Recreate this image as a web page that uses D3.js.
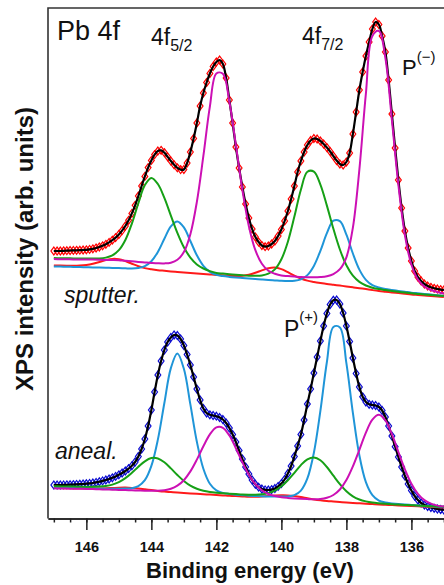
<!DOCTYPE html>
<html>
<head>
<meta charset="utf-8">
<script src="https://cdn.jsdelivr.net/npm/d3@7"></script>
<style>
  body { margin: 0; background: #fff; }
  svg { display: block; }
  text { font-family: "Liberation Sans", Arial, sans-serif; fill: #111; }
</style>
</head>
<body>
<script>
// binding energy of the measured points (eV), 0.1 eV steps
var energyData = [147.0,146.9,146.8,146.7,146.6,146.5,146.4,146.3,146.2,146.1,146.0,145.9,145.8,145.7,145.6,145.5,145.4,145.3,145.2,145.1,145.0,144.9,144.8,144.7,144.6,144.5,144.4,144.3,144.2,144.1,144.0,143.9,143.8,143.7,143.6,143.5,143.4,143.3,143.2,143.1,143.0,142.9,142.8,142.7,142.6,142.5,142.4,142.3,142.2,142.1,142.0,141.9,141.8,141.7,141.6,141.5,141.4,141.3,141.2,141.1,141.0,140.9,140.8,140.7,140.6,140.5,140.4,140.3,140.2,140.1,140.0,139.9,139.8,139.7,139.6,139.5,139.4,139.3,139.2,139.1,139.0,138.9,138.8,138.7,138.6,138.5,138.4,138.3,138.2,138.1,138.0,137.9,137.8,137.7,137.6,137.5,137.4,137.3,137.2,137.1,137.0,136.9,136.8,136.7,136.6,136.5,136.4,136.3,136.2,136.1,136.0,135.9,135.8,135.7,135.6,135.5,135.4,135.3,135.2,135.1,135.0];
// binding energy of the fit components (eV), 0.2 eV steps
var energyFit = [147.0,146.8,146.6,146.4,146.2,146.0,145.8,145.6,145.4,145.2,145.0,144.8,144.6,144.4,144.2,144.0,143.8,143.6,143.4,143.2,143.0,142.8,142.6,142.4,142.2,142.0,141.8,141.6,141.4,141.2,141.0,140.8,140.6,140.4,140.2,140.0,139.8,139.6,139.4,139.2,139.0,138.8,138.6,138.4,138.2,138.0,137.8,137.6,137.4,137.2,137.0,136.8,136.6,136.4,136.2,136.0,135.8,135.6,135.4,135.2,135.0];

// sputtered sample (arb. units)
var sputterData = [267,267,267,267.2,267.3,267.5,267.6,267.7,267.8,268,268.2,268.6,269.2,270,271,272.2,273.7,275.6,277.8,280.4,283.5,287.4,292,297.7,304.6,312.7,322,332,341.6,350.4,357.6,363.4,367,367.7,365.4,361.2,357,353.2,350.2,348.4,348.5,355,366,379.5,395,412,425,435.5,444.5,451.5,456,458,454,440,418,395,371,350,331,314,300,289,281,276,272.5,271.3,272,274,277,282,288.5,297,307,319,332,346,357,366,373,377.5,379.5,379,377,374,370.5,366.5,362,357.5,354,353,356,365,384,406,428,446,462,476,489,496,493.5,482,466,438,404,370,338,310,287,270,257,247,241,237,234,232,230.7,229.7,229,228.4,228];
var sputterGreen = [259.9,259.8,259.7,259.6,259.5,259.4,259.5,259.6,260.4,262.6,267.8,278.0,294.4,314.8,332.9,340.1,334.0,320.1,302.4,285.1,270.7,260.4,253.6,249.5,246.9,245.1,244.4,243.8,243.2,242.7,242.3,242.2,242.5,244.3,248.6,258.7,276.3,301.4,328.3,346.2,346.4,333.4,312.4,289.2,268.5,252.7,242.3,236.1,232.5,230.3,228.9,227.9,227.0,226.2,225.4,224.7,224.1,223.5,223.0,222.5,221.9];
var sputterCyan = [251.6,251.5,251.2,251.1,250.9,250.7,250.5,250.4,250.2,250.1,249.9,249.7,249.5,250.0,251.9,256.8,266.1,279.2,291.6,296.6,290.6,277.0,262.7,252.2,246.2,243.2,241.9,241.1,240.5,240.0,239.5,239.0,238.5,238.0,237.6,237.2,237.0,237.2,238.6,242.9,252.1,267.1,284.8,297.3,296.8,283.3,264.5,248.4,238.2,232.9,230.5,229.0,228.0,227.1,226.2,225.3,224.7,224.1,223.4,222.8,222.2];
var sputterMagenta = [258.9,258.8,258.7,258.6,258.6,258.5,258.4,258.3,258.1,258.0,257.8,257.2,256.7,256.1,255.6,255.1,254.7,254.6,255.3,258.2,265.9,283.8,316.2,362.1,411.4,444.5,444.2,416.3,372.9,328.2,291.8,267.8,254.3,247.3,244.2,242.4,241.9,241.4,240.9,240.8,240.7,241.0,241.8,243.9,248.8,260.7,290.3,348.6,424.3,482.1,487.0,460.0,398.0,333.0,283.0,253.5,238.5,231.5,228.0,226.0,224.5];
var sputterRed = [252.6,252.4,252.3,252.2,252.4,253.0,254.2,256.0,257.9,259.1,258.8,256.9,254.3,251.8,249.9,248.7,247.8,247.2,246.6,246.1,245.6,245.1,244.6,244.1,243.6,243.1,242.7,242.3,242.1,242.3,243.3,245.2,247.6,249.7,250.4,248.9,245.8,242.4,239.5,237.4,236.1,235.0,234.0,233.2,232.4,231.6,230.7,229.8,228.9,227.9,227.0,226.3,225.6,224.9,224.2,223.5,223.0,222.5,222.0,221.5,221.0];

// annealed sample (arb. units)
var anealData = [33,33,33,33.1,33.2,33.3,33.4,33.6,33.8,34,34.3,34.6,35,35.6,36.3,37.1,38,39,40.2,41.6,43.2,45,47,49.4,52.2,56,61.5,69,79,92,108,126,143,157,168,176,180.5,183,182.5,179,172.5,163.5,153,141,129,118,109.5,105,103.2,102.5,101.8,100.5,98.5,95,90,83.5,76,67.5,59,51,44,38,33.7,30.8,29,28.1,28,28.4,29.5,31.6,34.4,38.5,44.5,52,61.5,72,83.5,98,114,129,145,161,177,192,204.5,213.5,217.8,218,214,205,192,176.5,160,144.5,131,121.2,116,113.7,113,112.5,111,107.5,101,92,82,71.3,61,51,42,34,27.5,22,18,15,13,11.5,10.5,9.7,9,8.5,8];
var anealGreen = [31.7,31.6,31.5,31.4,31.3,31.2,31.2,31.4,32.0,33.4,35.9,39.9,45.2,51.2,56.7,59.9,59.5,55.7,49.6,43.0,37.0,32.3,29.2,27.3,26.1,25.3,24.7,24.3,23.9,23.5,23.3,23.3,23.7,24.9,27.4,31.7,37.8,45.2,52.9,58.7,60.6,57.8,51.0,42.3,33.9,26.8,21.7,18.5,16.6,15.4,14.7,14.2,13.8,13.4,13.1,12.8,12.4,12.1,11.8,11.5,11.2];
var anealCyan = [30.3,30.2,30.1,30.0,29.9,29.8,29.6,29.4,29.3,29.3,29.3,29.4,29.8,31.9,37.8,52.1,78.4,115.0,149.9,164.5,149.2,113.6,76.2,49.3,34.3,27.7,25.1,24.0,23.3,22.8,22.3,22.0,21.7,21.5,21.4,21.4,21.6,22.8,27.4,39.6,65.3,107.1,156.0,191.0,190.6,154.8,105.1,62.5,35.8,22.8,17.4,15.5,14.6,13.9,13.4,13.0,12.5,12.1,11.7,11.3,11.0];
var anealMagenta = [29.7,29.5,29.4,29.3,29.2,29.1,28.9,28.7,28.5,28.3,28.1,27.9,27.7,27.5,27.3,27.2,27.2,27.8,29.2,32.3,37.8,46.6,58.4,71.7,83.6,90.6,90.2,82.5,69.8,55.7,43.2,33.8,27.7,24.0,22.0,20.8,20.1,19.6,19.2,18.9,18.7,18.9,20.2,23.0,28.5,37.9,51.6,68.2,85.3,98.4,103.2,97.6,83.8,66.0,48.7,34.3,24.2,17.9,14.4,12.4,11.4];
var anealRed = [30.0,29.9,29.7,29.6,29.5,29.5,29.4,29.5,29.7,30.0,30.3,30.4,30.1,29.5,28.7,27.9,27.1,26.4,25.9,25.4,25.0,24.6,24.2,23.8,23.4,23.0,22.6,22.2,21.9,21.6,21.3,21.3,21.5,21.9,22.4,22.7,22.6,21.9,20.9,19.7,18.6,17.7,17.0,16.5,16.0,15.5,15.1,14.7,14.3,13.9,13.5,13.2,12.9,12.6,12.3,12.0,11.7,11.4,11.1,10.8,10.5];

// axis ticks
var majorTicks = [136,138,140,142,144,146];
var minorTicks = [135,135.5,136,136.5,137,137.5,138,138.5,139,139.5,140,140.5,141,141.5,142,142.5,143,143.5,144,144.5,145,145.5,146,146.5,147];

var width = 444, height = 585;
var plotLeft = 48, plotTop = 8, plotBottom = 518.5;

var svg = d3.select('body').append('svg')
	.attr('width', width)
	.attr('height', height);

var x = d3.scaleLinear().domain([147.18, 134.8]).range([plotLeft, 450.4]);
var y = d3.scaleLinear().domain([0, 510]).range([518, 8]);

svg.append('clipPath').attr('id', 'plot')
	.append('rect')
	.attr('x', plotLeft).attr('y', plotTop)
	.attr('width', width - plotLeft).attr('height', plotBottom - plotTop);

var plot = svg.append('g').attr('clip-path', 'url(#plot)');

function lineOn(es){
	return d3.line()
		.x(function(d, i){ return x(es[i]); })
		.y(function(d){ return y(d); })
		.curve(d3.curveCatmullRom.alpha(0.5));
}
var dataLine = lineOn(energyData);
var fitLine = lineOn(energyFit);

// hollow diamond marker, a bit wider than d3.symbolDiamond
var diamond = 'M0,-3.9L2.9,0L0,3.9L-2.9,0Z';

function spectrum(data, markColor, comps){
	var g = plot.append('g');
	g.selectAll('path.pt')
		.data(data)
		.enter()
		.append('path')
		.attr('class', 'pt')
		.attr('d', diamond)
		.attr('transform', function(d, i){ return 'translate(' + x(energyData[i]) + ',' + y(d) + ')'; })
		.attr('fill', 'none')
		.attr('stroke', markColor)
		.attr('stroke-width', 1.2);
	g.append('path')
		.attr('d', dataLine(data))
		.attr('fill', 'none')
		.attr('stroke', '#000')
		.attr('stroke-width', 2.2);
	comps.forEach(function(c){
		g.append('path')
			.attr('d', fitLine(c[0]))
			.attr('fill', 'none')
			.attr('stroke', c[1])
			.attr('stroke-width', 2);
	});
}

var red = '#ff1a1a', cyan = '#1f95d8', green = '#16a016', magenta = '#cc10b4';

spectrum(sputterData, '#ff0000', [[sputterRed, red], [sputterCyan, cyan], [sputterGreen, green], [sputterMagenta, magenta]]);
spectrum(anealData, '#0a0ad0', [[anealRed, red], [anealCyan, cyan], [anealGreen, green], [anealMagenta, magenta]]);

// frame
svg.append('path')
	.attr('d', 'M' + plotLeft + ',' + plotBottom + 'V' + plotTop + 'H' + width)
	.attr('fill', 'none')
	.attr('stroke', '#333')
	.attr('stroke-width', 1.6);

// x axis
var axisG = svg.append('g')
	.attr('transform', 'translate(0,' + plotBottom + ')');
axisG.append('g')
	.call(d3.axisBottom(x).tickValues(minorTicks).tickSize(4).tickSizeOuter(0).tickFormat(''));
axisG.append('g')
	.call(d3.axisBottom(x).tickValues(majorTicks).tickSize(11.5).tickSizeOuter(0).tickPadding(11.5).tickFormat(d3.format('d')));
axisG.selectAll('path.domain').attr('stroke', '#222').attr('stroke-width', 1.6);
axisG.selectAll('.tick line').attr('stroke', '#222').attr('stroke-width', 1.5);
axisG.selectAll('.tick text')
	.style('font-family', '"Liberation Sans", Arial, sans-serif')
	.style('font-size', '14.5px')
	.style('font-weight', 'bold')
	.attr('fill', '#111');

svg.append('text')
	.attr('x', 250)
	.attr('y', 578)
	.attr('text-anchor', 'middle')
	.style('font-size', '22px')
	.style('font-weight', 'bold')
	.text('Binding energy (eV)');

svg.append('text')
	.attr('transform', 'translate(33,249) rotate(-90)')
	.attr('text-anchor', 'middle')
	.style('font-size', '24px')
	.style('font-weight', 'bold')
	.text('XPS intensity (arb. units)');

// labels
svg.append('text').attr('x', 57).attr('y', 40).style('font-size', '27px').text('Pb 4f');

var t1 = svg.append('text').attr('x', 151).attr('y', 45).style('font-size', '23px');
t1.append('tspan').text('4f');
t1.append('tspan').attr('dy', 6).style('font-size', '16px').text('5/2');

var t2 = svg.append('text').attr('x', 302).attr('y', 43.5).style('font-size', '23px');
t2.append('tspan').text('4f');
t2.append('tspan').attr('dy', 6.5).style('font-size', '16px').text('7/2');

var t3 = svg.append('text').attr('x', 402).attr('y', 75).style('font-size', '22px');
t3.append('tspan').text('P');
t3.append('tspan').attr('dy', -13).style('font-size', '15px').text('(\u2212)');

var t4 = svg.append('text').attr('x', 284).attr('y', 336.5).style('font-size', '23px');
t4.append('tspan').text('P');
t4.append('tspan').attr('dy', -14.5).style('font-size', '15px').text('(+)');

svg.append('text').attr('x', 64).attr('y', 303).style('font-size', '23px').style('font-style', 'italic').text('sputter.');
svg.append('text').attr('x', 55).attr('y', 459).style('font-size', '23px').style('font-style', 'italic').text('aneal.');
</script>
</body>
</html>
